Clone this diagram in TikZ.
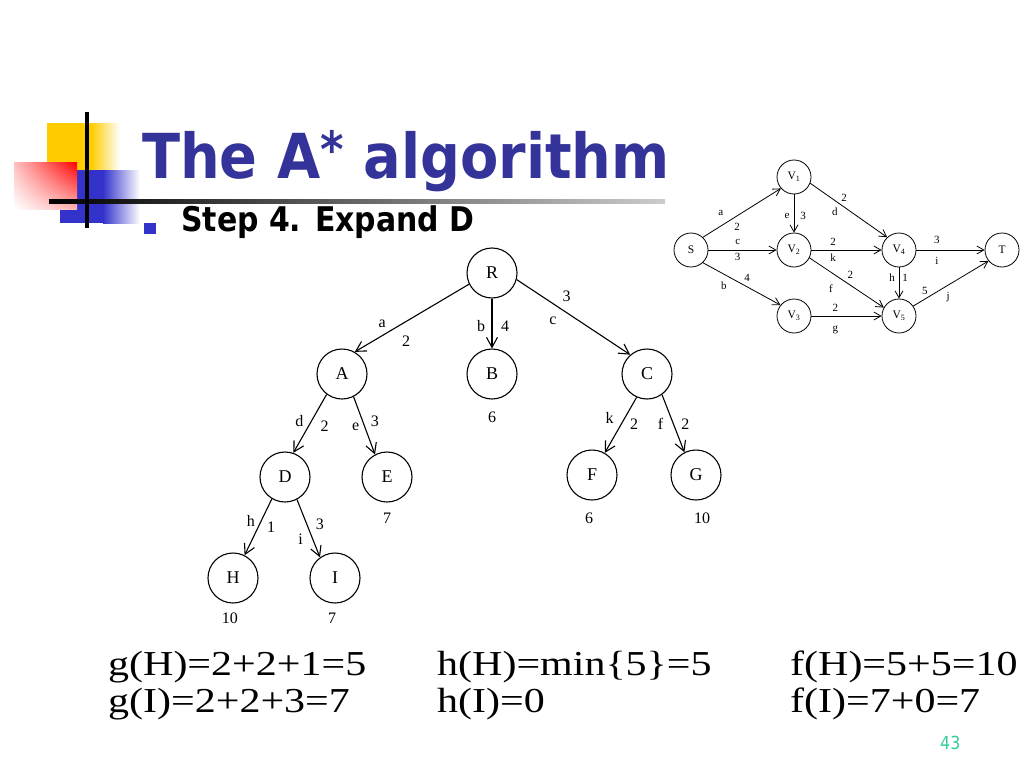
\documentclass[tikz,border=0pt]{standalone}
\usepackage{fontspec}
\setmainfont{Liberation Serif}
\newfontfamily\headfont[FakeStretch=0.88]{DejaVu Sans}
\newfontfamily\titlefont[FakeStretch=0.9]{DejaVu Sans}
\newfontfamily\formfont[FakeStretch=1.2]{Liberation Serif}
\usetikzlibrary{positioning,arrows.meta,shadings}
\definecolor{titleblue}{HTML}{333399}
\definecolor{bulletblue}{HTML}{3333CC}
\definecolor{decoyellow}{HTML}{FFCC00}
\definecolor{pagegreen}{HTML}{33CC99}

\begin{document}
\begin{tikzpicture}[x=1bp,y=-1bp,on grid]
\tikzstyle{main}=[circle, minimum size=50bp, inner sep=0pt, line width=1.1bp, draw=black, font=\fontsize{18bp}{18bp}\selectfont]
\tikzstyle{vert}=[circle, minimum size=34bp, inner sep=0pt, line width=0.8bp, draw=black, font=\fontsize{11.5bp}{11.5bp}\selectfont]
\tikzstyle{connect}=[-{Straight Barb[length=10bp,width=11bp]}, line width=1.1bp]
\tikzstyle{thinconnect}=[-{Straight Barb[length=7bp,width=8bp]}, line width=0.8bp]
\tikzstyle{lbl}=[inner sep=0pt, font=\fontsize{16bp}{16bp}\selectfont]
\tikzstyle{slbl}=[inner sep=0pt, font=\fontsize{11bp}{11bp}\selectfont]
\tikzstyle{formula}=[anchor=base west, inner sep=0pt, font=\formfont\fontsize{35bp}{35bp}\selectfont]
\useasboundingbox (0,0) rectangle (1024,768);

% corner decoration
\fill[decoyellow] (47,123) rectangle (91,170);
\shade[left color=decoyellow, right color=white] (91,123) rectangle (120,170);
\fill[bulletblue] (60,170) rectangle (103,223);
\shade[left color=bulletblue, right color=white] (103,170) rectangle (140,223);
\shade[upper right=red, upper left=red!25, lower right=red!30, lower left=white] (14,162) rectangle (77,209);
\shade[left color=black, right color=black!20] (49,199) rectangle (665,203);
\draw[line width=4bp] (87,112) -- (87,228);

% title
\node[anchor=base west, inner sep=0pt, text=titleblue, font=\titlefont\bfseries\fontsize{62bp}{62bp}\selectfont] (title) at (142,178)
  {The A{\fontsize{50bp}{50bp}\selectfont\raisebox{11bp}{*}} algorithm};
\node[fill=bulletblue, minimum width=12bp, minimum height=11bp, inner sep=0pt] (bullet) at (150,228) {};
\node[anchor=base west, inner sep=0pt, font=\headfont\bfseries\fontsize{34bp}{34bp}\selectfont] (step) at (181,231) {Step 4. Expand D};

% search tree
\node[main] (R) at (492,273) {R};
\node[main] (A) [below left=101bp and 150bp of R] {A};
\node[main] (B) [below=101bp of R, label={[lbl,label distance=12bp]below:6}] {B};
\node[main] (C) [below right=101bp and 155bp of R] {C};
\node[main] (D) [below left=103bp and 57bp of A] {D};
\node[main] (E) [below right=103bp and 45bp of A, label={[lbl,label distance=10bp]below:7}] {E};
\node[main] (F) [below left=101bp and 55bp of C, label={[lbl,label distance=12bp,xshift=-3bp]below:6}] {F};
\node[main] (G) [below right=101bp and 49bp of C, label={[lbl,label distance=12bp,xshift=6bp]below:10}] {G};
\node[main] (H) [below left=101bp and 52bp of D, label={[lbl,label distance=9bp,xshift=-3bp]below:10}] {H};
\node[main] (I) [below right=101bp and 50bp of D, label={[lbl,label distance=9bp,xshift=-3bp]below:7}] {I};

\path (R.206) edge[connect] node[lbl,pos=.76,shift={(0,-12)}]{a} node[lbl,pos=.55,shift={(0,20)}]{2} (A.60)
      (R.south) edge[connect] node[lbl,pos=.56,shift={(-11,0)}]{b} node[lbl,pos=.56,shift={(13,0)}]{4} (B.north)
      (R.345) edge[connect] node[lbl,pos=.44,shift={(0,-16)}]{3} node[lbl,pos=.32,shift={(0,17)}]{c} (C.131);
\path (A.233) edge[connect] node[lbl,pos=.46,shift={(-12,0)}]{d} node[lbl,pos=.54,shift={(16,0)}]{2} (D.71)
      (A.297) edge[connect] node[lbl,pos=.52,shift={(-9,0)}]{e} node[lbl,pos=.43,shift={(12,0)}]{3} (E.118);
\path (C.246) edge[connect] node[lbl,pos=.38,shift={(-15,0)}]{k} node[lbl,pos=.49,shift={(13,0)}]{2} (F.60)
      (C.306) edge[connect] node[lbl,pos=.51,shift={(-13,0)}]{f} node[lbl,pos=.51,shift={(12,0)}]{2} (G.117);
\path (D.239) edge[connect] node[lbl,pos=.40,shift={(-10,0)}]{h} node[lbl,pos=.5,shift={(13,0)}]{1} (H.63)
      (D.298) edge[connect] node[lbl,pos=.68,shift={(-12,0)}]{i} node[lbl,pos=.43,shift={(13,0)}]{3} (I.126);

% graph
\node[vert] (S) at (691,250) {S};
\node[vert] (V1) [above right=73bp and 103bp of S] {V\textsubscript{1}};
\node[vert] (V2) [right=103bp of S] {V\textsubscript{2}};
\node[vert] (V3) [below right=66bp and 103bp of S] {V\textsubscript{3}};
\node[vert] (V4) [right=105bp of V2] {V\textsubscript{4}};
\node[vert] (V5) [below=66bp of V4] {V\textsubscript{5}};
\node[vert] (T) [right=103bp of V4] {T};

\path (S.47) edge[thinconnect] node[slbl,pos=.23,shift={(0,-13)}]{a} node[slbl,pos=.44,shift={(0,11)}]{2} (V1.221)
      (S.east) edge[thinconnect] node[slbl,pos=.43,shift={(0,-8)}]{c} node[slbl,pos=.43,shift={(0,7)}]{3} (V2.west)
      (S.313) edge[thinconnect] node[slbl,pos=.57,shift={(0,-8.5)}]{4} node[slbl,pos=.27,shift={(0,12)}]{b} (V3.141);
\path (V1.south) edge[thinconnect] node[slbl,pos=.56,shift={(-7,0)}]{e} node[slbl,pos=.56,shift={(9,0)}]{3} (V2.north)
      (V1.339) edge[thinconnect] node[slbl,pos=.44,shift={(0,-9)}]{2} node[slbl,pos=.32,shift={(0,11)}]{d} (V4.133);
\path (V2.east) edge[thinconnect] node[slbl,pos=.31,shift={(0,-8)}]{2} node[slbl,pos=.31,shift={(0,8)}]{k} (V4.west)
      (V2.333) edge[thinconnect] node[slbl,pos=.55,shift={(0,-10)}]{2} node[slbl,pos=.29,shift={(0,16)}]{f} (V5.151);
\path (V4.east) edge[thinconnect] node[slbl,pos=.3,shift={(0,-10)}]{3} node[slbl,pos=.3,shift={(0,11)}]{i} (T.west)
      (V4.south) edge[thinconnect] node[slbl,pos=.34,shift={(-7,0)}]{h} node[slbl,pos=.34,shift={(6,0)}]{1} (V5.north);
\path (V3.east) edge[thinconnect] node[slbl,pos=.34,shift={(0,-8)}]{2} node[slbl,pos=.34,shift={(0,14)}]{g} (V5.west)
      (V5.35) edge[thinconnect] node[slbl,pos=.155,shift={(0,-8.5)}]{5} node[slbl,pos=.465,shift={(0,11.5)}]{j} (T.219);

% cost computations
\node[formula] (gH) at (108,675) {g(H)=2+2+1=5};
\node[formula] (hH) at (437,675) {h(H)=min\{5\}=5};
\node[formula] (fH) at (790,675) {f(H)=5+5=10};
\node[formula] (gI) at (108,712) {g(I)=2+2+3=7};
\node[formula] (hI) at (437,712) {h(I)=0};
\node[formula] (fI) at (790,712) {f(I)=7+0=7};

\node[anchor=base west, inner sep=0pt, text=pagegreen, font=\headfont\fontsize{18bp}{18bp}\selectfont] (page) at (940,749) {43};
\end{tikzpicture}
\end{document}
